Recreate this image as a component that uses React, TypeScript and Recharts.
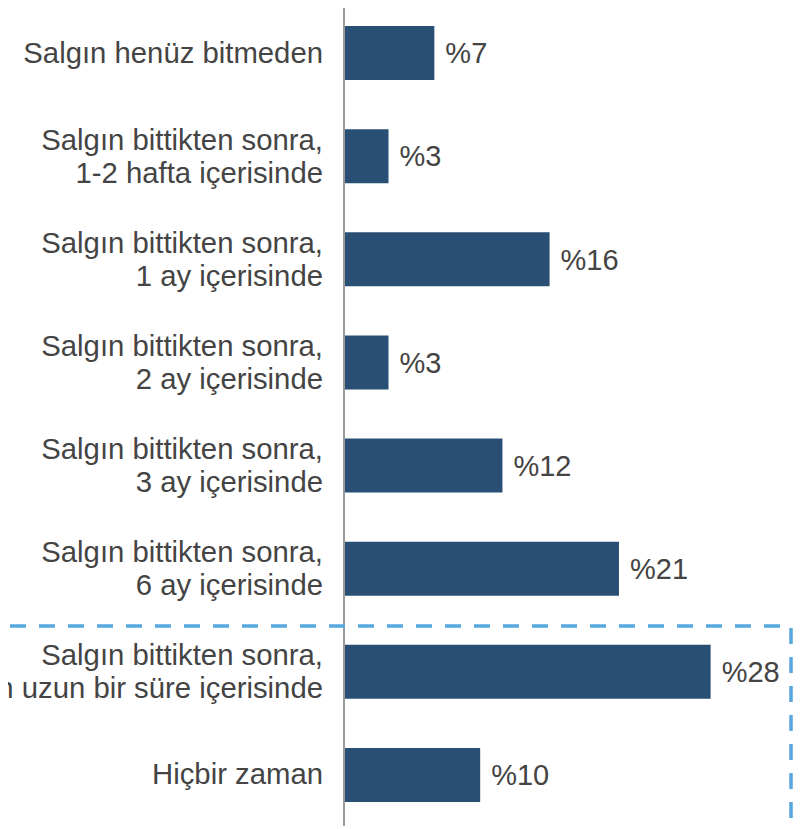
import React from 'react';
import { BarChart, Bar, XAxis, YAxis, LabelList } from 'recharts';

const categories: string[] = [
  'Salgın henüz bitmeden',
  'Salgın bittikten sonra,\n1-2 hafta içerisinde',
  'Salgın bittikten sonra,\n1 ay içerisinde',
  'Salgın bittikten sonra,\n2 ay içerisinde',
  'Salgın bittikten sonra,\n3 ay içerisinde',
  'Salgın bittikten sonra,\n6 ay içerisinde',
  'Salgın bittikten sonra,\n6 aydan uzun bir süre içerisinde',
  'Hiçbir zaman',
];

const values: number[] = [6.9, 3.4, 15.7, 3.4, 12.1, 21.0, 28.0, 10.4];
const valueLabels: string[] = ['%7', '%3', '%16', '%3', '%12', '%21', '%28', '%10'];

const data = categories.map((c, i) => ({ name: c, value: values[i], label: valueLabels[i] }));

const FONT = '"Liberation Sans", Arial, sans-serif';
const TEXT = '#444444';
const BAR = '#2A4F75';

const CategoryTick = (props: any) => {
  const { x, y, payload } = props;
  const lines: string[] = String(payload.value).split('\n');
  const n = lines.length;
  const lh = 33;
  const first = n === 1 ? y + 10 : y - 6;
  return (
    <text x={x} y={first} textAnchor="end" fontFamily={FONT} fontSize={29.3} fill={TEXT}>
      {lines.map((l, i) => (
        <tspan key={i} x={x} y={first + i * lh}>
          {l}
        </tspan>
      ))}
    </text>
  );
};

export default function App() {
  return (
    <div style={{ position: 'relative', width: 808, height: 829, margin: '-8px 0 0 -8px' }}>
      <BarChart
        width={808}
        height={829}
        data={data}
        layout="vertical"
        margin={{ top: 1, right: 45, bottom: 3, left: 0 }}
      >
        <XAxis type="number" domain={[0, 32]} hide allowDataOverflow />
        <YAxis
          type="category"
          dataKey="name"
          width={344}
          tickLine={false}
          tickSize={6}
          tickMargin={15}
          axisLine={{ stroke: '#9a9a9a', strokeWidth: 2 }}
          tick={<CategoryTick />}
          interval={0}
        />
        <Bar dataKey="value" fill={BAR} barSize={54} isAnimationActive={false}>
          <LabelList
            dataKey="label"
            position="right"
            offset={11}
            fill={TEXT}
            fontSize={29}
            fontFamily={FONT}
          />
        </Bar>
      </BarChart>
      <svg
        width={808}
        height={829}
        style={{ position: 'absolute', left: 0, top: 0, pointerEvents: 'none' }}
      >
        <path
          d="M10,626 H791 V835"
          fill="none"
          stroke="#56A8DE"
          strokeWidth={3.5}
          strokeDasharray="16 13"
        />
      </svg>
    </div>
  );
}
